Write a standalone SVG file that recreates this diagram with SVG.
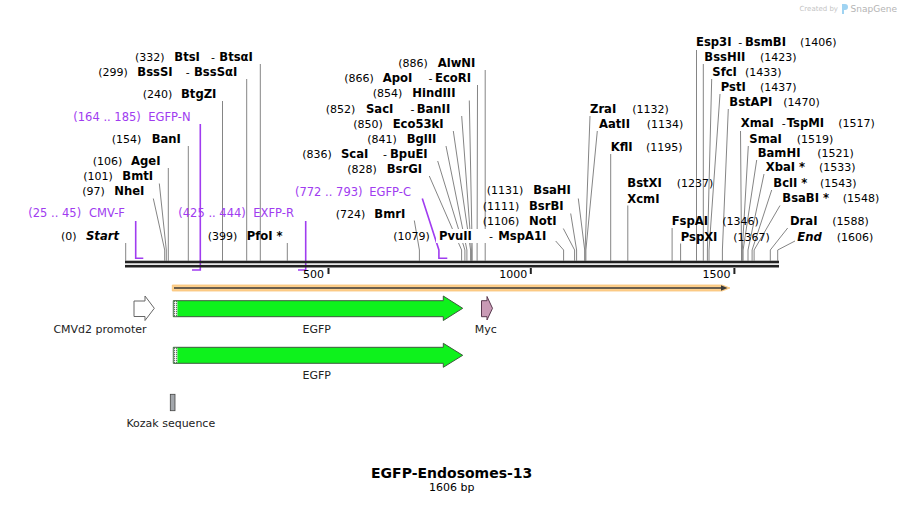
<svg xmlns="http://www.w3.org/2000/svg" width="904" height="505" viewBox="0 0 904 505">
<style>
text{font-family:"DejaVu Sans",Verdana,sans-serif;fill:#000}
.n{font-size:11px}
.b{font-size:11.6px;font-weight:bold}
.bi{font-size:11.6px;font-weight:bold;font-style:italic}
.p{font-size:11.5px;fill:#A03CF0}
.f{font-size:11px;fill:#222}
.ln{stroke:#858585;stroke-width:1;fill:none}
.pl{stroke:#A03CF0;stroke-width:1.6;fill:none}
.c{text-anchor:middle}
</style>
<rect width="904" height="505" fill="#fff"/>
<g id="watermark">
<text x="838" y="11" text-anchor="end" style="font-size:7px;fill:#c4c4c4">Created by</text>
<path d="M842,4 h3 a3,3 0 0 1 0,6 h-1 v4 h-2 z" fill="#9fd3f2"/>
<text x="897" y="12" text-anchor="end" style="font-size:9px;fill:#b4b4b4">SnapGene</text>
</g>
<g id="connectors">
<path class="ln" d="M260.3,64V260.7M246.7,79V260.7M222.5,101V260.7M188.3,146V260.7M168.3,168V260.7M159.3,183.5L166.3,250V260.7M153.3,198.5L164.7,250V260.7M125.7,243V260.7M287.3,243V260.7"/>
<path class="ln" d="M485.2,70V260.7M477.5,85L477.1,250V260.7M469.3,100.5L472.2,250V260.7M461.7,116L471.4,250V260.7M453.3,131L470.6,250V260.7M446,146L466.9,250V260.7M437.7,161L464.9,250V260.7M429.3,176L461.6,250V260.7M414.3,220.5L419.4,250V260.7"/>
<path class="ln" d="M578.3,198.5L584.7,250V260.7M570.7,213.5L576.6,250V260.7M563.3,228.5L574.6,250V260.7M590,116L585.1,250V260.7M597.3,131L585.9,250V260.7M610.7,154V260.7M627.8,205.5V260.7M672.1,228V260.7M680.6,243.5V260.7"/>
<path class="ln" d="M696.5,50V260.7M703.3,64V260.7M711.7,79L707.4,250V260.7M720,94L709,250V260.7M728.3,109L722.4,250V260.7M740.5,131L741.5,250V260.7M748.3,146L742.3,250V260.7M756.7,160L743.1,250V260.7M764,174L748,250V260.7M771.7,190L752.1,250V260.7M780,205.5L754.1,250V260.7M787.7,228L770.3,250V260.7M795,241L777.7,250V260.7"/>
<path class="pl" d="M200.3,124V270H192M135.7,221V258.3H143.3M305.7,221V270H298M422.3,198.5L438.9,250V258.3H447.3"/>
</g>
<g id="pvuII-label">
<rect x="436" y="229" width="118" height="14" fill="#fff"/>
<path class="ln" d="M555.7,241L563.6,250V260.7"/>
<text class="n" x="393.3" y="240">(1079)</text><text class="b" x="439" y="240">PvuII</text><text class="n" x="489" y="240">-</text><text class="b" x="498.3" y="240">MspA1I</text>
</g>
<g id="map">
<rect x="125" y="260.7" width="654" height="2.6" fill="#222"/>
<rect x="125" y="264.9" width="654" height="2.6" fill="#222"/>
<rect x="327.5" y="268" width="2" height="6" fill="#222"/>
<rect x="529.8" y="268" width="2" height="6" fill="#222"/>
<rect x="733.4" y="268" width="2" height="6" fill="#222"/>
<text class="n" x="324" y="277.7" text-anchor="end">500</text>
<text class="n" x="527.3" y="277.7" text-anchor="end">1000</text>
<text class="n" x="730.5" y="277.7" text-anchor="end">1500</text>
</g>
<g id="lbl-BtsI"><text class="n" x="135" y="60.5">(332)</text><text class="b" x="174.3" y="60.5">BtsI</text><text class="n" x="211" y="60.5">-</text><text class="b" x="219.3" y="60.5">BtsαI</text></g>
<g id="lbl-BssSI"><text class="n" x="98.3" y="75.7">(299)</text><text class="b" x="137.3" y="75.7">BssSI</text><text class="n" x="185.7" y="75.7">-</text><text class="b" x="194" y="75.7">BssSαI</text></g>
<g id="lbl-BtgZI"><text class="n" x="142.7" y="98.3">(240)</text><text class="b" x="181" y="98.3">BtgZI</text></g>
<g id="lbl-EGFP-N"><text class="p" x="73.3" y="121">(164 .. 185)</text><text class="p" x="148.3" y="121">EGFP-N</text></g>
<g id="lbl-BanI"><text class="n" x="111.7" y="142.7">(154)</text><text class="b" x="151.7" y="142.7">BanI</text></g>
<g id="lbl-AgeI"><text class="n" x="92.7" y="165">(106)</text><text class="b" x="131" y="165">AgeI</text></g>
<g id="lbl-BmtI"><text class="n" x="83.3" y="180">(101)</text><text class="b" x="122.3" y="180">BmtI</text></g>
<g id="lbl-NheI"><text class="n" x="82.3" y="195">(97)</text><text class="b" x="114.3" y="195">NheI</text></g>
<g id="lbl-CMV-F"><text class="p" x="28.3" y="216.7">(25 .. 45)</text><text class="p" x="89" y="216.7">CMV-F</text></g>
<g id="lbl-Start"><text class="n" x="61" y="240">(0)</text><text class="bi" x="86" y="240">Start</text></g>
<g id="lbl-EXFP-R"><text class="p" x="178.3" y="216.7">(425 .. 444)</text><text class="p" x="253.3" y="216.7">EXFP-R</text></g>
<g id="lbl-PfoI"><text class="n" x="207.7" y="240">(399)</text><text class="b" x="246.7" y="240">PfoI *</text></g>
<g id="lbl-AlwNI"><text class="n" x="398.3" y="67.3">(886)</text><text class="b" x="437.7" y="67.3">AlwNI</text></g>
<g id="lbl-ApoI"><text class="n" x="344.3" y="82.3">(866)</text><text class="b" x="382.7" y="82.3">ApoI</text><text class="n" x="428.5" y="82.3">-</text><text class="b" x="435" y="82.3">EcoRI</text></g>
<g id="lbl-HindIII"><text class="n" x="372.7" y="97.3">(854)</text><text class="b" x="412.3" y="97.3">HindIII</text></g>
<g id="lbl-SacI"><text class="n" x="325.7" y="112.7">(852)</text><text class="b" x="366" y="112.7">SacI</text><text class="n" x="410.5" y="112.7">-</text><text class="b" x="416.7" y="112.7">BanII</text></g>
<g id="lbl-Eco53kI"><text class="n" x="353.3" y="127.7">(850)</text><text class="b" x="392.7" y="127.7">Eco53kI</text></g>
<g id="lbl-BglII"><text class="n" x="367.3" y="142.7">(841)</text><text class="b" x="406.7" y="142.7">BglII</text></g>
<g id="lbl-ScaI"><text class="n" x="302.3" y="157.7">(836)</text><text class="b" x="341" y="157.7">ScaI</text><text class="n" x="383" y="157.7">-</text><text class="b" x="390" y="157.7">BpuEI</text></g>
<g id="lbl-BsrGI"><text class="n" x="347.3" y="172.7">(828)</text><text class="b" x="386.7" y="172.7">BsrGI</text></g>
<g id="lbl-EGFP-C"><text class="p" x="295" y="196">(772 .. 793)</text><text class="p" x="369.3" y="196">EGFP-C</text></g>
<g id="lbl-BmrI"><text class="n" x="335.7" y="217.7">(724)</text><text class="b" x="374.3" y="217.7">BmrI</text></g>
<g id="lbl-BsaHI"><text class="n" x="486.7" y="194">(1131)</text><text class="b" x="533.3" y="194">BsaHI</text></g>
<g id="lbl-BsrBI"><text class="n" x="482.7" y="210">(1111)</text><text class="b" x="529" y="210">BsrBI</text></g>
<g id="lbl-NotI"><text class="n" x="482.7" y="225">(1106)</text><text class="b" x="529" y="225">NotI</text></g>
<g id="lbl-ZraI"><text class="b" x="590" y="112.7">ZraI</text><text class="n" x="632.3" y="112.7">(1132)</text></g>
<g id="lbl-AatII"><text class="b" x="599" y="127.7">AatII</text><text class="n" x="646.7" y="127.7">(1134)</text></g>
<g id="lbl-KflI"><text class="b" x="610.7" y="151">KflI</text><text class="n" x="646" y="151">(1195)</text></g>
<g id="lbl-BstXI"><text class="b" x="627.3" y="186.7">BstXI</text><text class="n" x="676.7" y="186.7">(1237)</text><text class="b" x="627.3" y="202.7">XcmI</text></g>
<g id="lbl-FspAI"><text class="b" x="671.7" y="225">FspAI</text><text class="n" x="722.3" y="225">(1346)</text></g>
<g id="lbl-PspXI"><text class="b" x="680.7" y="240.7">PspXI</text><text class="n" x="733.3" y="240.7">(1367)</text></g>
<g id="lbl-Esp3I"><text class="b" x="696" y="45.7">Esp3I</text><text class="n" x="738.3" y="45.7">-</text><text class="b" x="745" y="45.7">BsmBI</text><text class="n" x="800" y="45.7">(1406)</text></g>
<g id="lbl-BssHII"><text class="b" x="704.3" y="60.7">BssHII</text><text class="n" x="760" y="60.7">(1423)</text></g>
<g id="lbl-SfcI"><text class="b" x="712.3" y="75.7">SfcI</text><text class="n" x="745" y="75.7">(1433)</text></g>
<g id="lbl-PstI"><text class="b" x="720.7" y="91">PstI</text><text class="n" x="760" y="91">(1437)</text></g>
<g id="lbl-BstAPI"><text class="b" x="729.3" y="106">BstAPI</text><text class="n" x="783.3" y="106">(1470)</text></g>
<g id="lbl-XmaI"><text class="b" x="740.7" y="126.7">XmaI</text><text class="n" x="781.7" y="126.7">-</text><text class="b" x="786.7" y="126.7">TspMI</text><text class="n" x="838.3" y="126.7">(1517)</text></g>
<g id="lbl-SmaI"><text class="b" x="749.3" y="142.7">SmaI</text><text class="n" x="796.7" y="142.7">(1519)</text></g>
<g id="lbl-BamHI"><text class="b" x="757.7" y="156.7">BamHI</text><text class="n" x="817.3" y="156.7">(1521)</text></g>
<g id="lbl-XbaI"><text class="b" x="765.7" y="171">XbaI *</text><text class="n" x="819" y="171">(1533)</text></g>
<g id="lbl-BclI"><text class="b" x="773.3" y="186.7">BclI *</text><text class="n" x="820" y="186.7">(1543)</text></g>
<g id="lbl-BsaBI"><text class="b" x="782.3" y="202.3">BsaBI *</text><text class="n" x="842.7" y="202.3">(1548)</text></g>
<g id="lbl-DraI"><text class="b" x="790" y="225">DraI</text><text class="n" x="832.3" y="225">(1588)</text></g>
<g id="lbl-End"><text class="bi" x="797.3" y="240.7">End</text><text class="n" x="836.7" y="240.7">(1606)</text></g>
<g id="orf">
<path d="M172.3,285H722L730,288L722,291H172.3Z" fill="#FFD08C" stroke="#F8C378" stroke-width="0.8"/>
<path d="M174,288H723" stroke="#3a3a3a" stroke-width="1.6"/>
<path d="M721,285.3L727.5,288L721,290.7Z" fill="#3a3a3a"/>
</g>
<g id="CMVd2-promoter">
<path d="M134,301H145V296L154.3,308.3L145,320.5V316.5H134Z" fill="#fff" stroke="#666" stroke-width="1"/>
<text class="f c" x="100" y="333.3">CMVd2 promoter</text>
</g>
<g id="EGFP-1">
<path d="M173.3,300.7H443.3V296L462.7,308.3L443.3,320.5V316.7H173.3Z" fill="#0EF21C" stroke="#3d5a3d" stroke-width="1"/>
<rect x="173.8" y="301.2" width="3.6" height="15" fill="#fff"/>
<path d="M174.6,301.2V316.2M176.6,301.2V316.2" stroke="#000" stroke-width="0.8" stroke-dasharray="1,1"/>
<text class="f c" x="316.7" y="333.3">EGFP</text>
</g>
<g id="Myc">
<path d="M481.5,300.7H487V296.5L492.5,308.3L487,320V316.7H481.5Z" fill="#C99AB5" stroke="#5a3a50" stroke-width="1"/>
<text class="f c" x="485.7" y="333.3">Myc</text>
</g>
<g id="EGFP-2">
<path d="M173.3,347.3H443.3V343.3L462.7,355.3L443.3,367.3V363.3H173.3Z" fill="#0EF21C" stroke="#3d5a3d" stroke-width="1"/>
<rect x="173.8" y="347.8" width="3.6" height="15" fill="#fff"/>
<path d="M174.6,347.8V362.8M176.6,347.8V362.8" stroke="#000" stroke-width="0.8" stroke-dasharray="1,1"/>
<text class="f c" x="316.7" y="379.3">EGFP</text>
</g>
<g id="Kozak">
<rect x="170.3" y="394.3" width="4.7" height="16.4" fill="#A3A7AC" stroke="#444" stroke-width="0.8"/>
<text class="f c" x="170.8" y="427.3">Kozak sequence</text>
</g>
<g id="title">
<text class="c" x="451.7" y="478.3" style="font-size:14px;font-weight:bold">EGFP-Endosomes-13</text>
<text class="n c" x="451.7" y="491">1606 bp</text>
</g>
</svg>
